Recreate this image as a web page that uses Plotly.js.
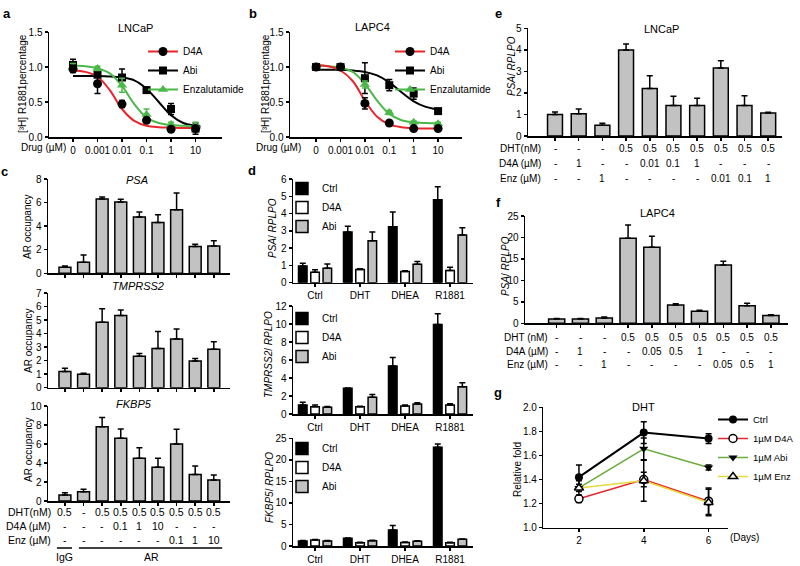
<!DOCTYPE html>
<html><head><meta charset="utf-8">
<script src="https://cdn.plot.ly/plotly-3.0.1.min.js"></script>
<style>html,body{margin:0;padding:0;background:#fff}#chart{width:800px;height:566px}</style>
</head><body><div id="chart"></div>
<script>
// ================= DATA =================
// panels a / b : competition binding
const doseLabels = ['0','0.001','0.01','0.1','1','10'];
const doseIdx = [0,1,2,3,4,5];
const lncapD4A = [0.97,0.76,0.47,0.24,0.11,0.12];
const lncapD4AErr = [0.05,0.14,0.05,0.03,0.02,0.03];
const lncapAbi = [1.03,0.89,0.85,0.67,0.40,0.12];
const lncapAbiErr = [0.08,0.03,0.12,0.04,0.08,0.08];
const lncapEnz = [1.00,0.98,0.74,0.32,0.18,0.16];
const lncapEnzErr = [0.05,0.03,0.10,0.08,0.03,0.05];
// fitted curves (x in decade index)
const lncapFitX = [0,0.5,1,1.5,2,2.5,3,3.5,4,4.5,5,5.2];
const lncapFitD4A = [0.95,0.93,0.86,0.67,0.40,0.23,0.16,0.14,0.135,0.13,0.13,0.13];
const lncapFitEnz = [1.02,1.01,0.98,0.91,0.73,0.47,0.28,0.20,0.17,0.16,0.155,0.155];
const lncapFitAbi = [0.87,0.87,0.87,0.865,0.85,0.81,0.69,0.50,0.31,0.20,0.16,0.15];

const lapcD4A = [1.00,1.00,0.48,0.20,0.12,0.12];
const lapcD4AErr = [0.03,0.03,0.08,0.02,0.02,0.02];
const lapcAbi = [1.00,1.00,0.84,0.74,0.62,0.37];
const lapcAbiErr = [0.04,0.04,0.22,0.08,0.08,0.03];
const lapcEnz = [1.00,1.00,0.75,0.35,0.21,0.19];
const lapcEnzErr = [0.04,0.04,0.05,0.03,0.02,0.02];
const lapcFitX = [0,0.5,1,1.5,2,2.5,3,3.5,4,4.5,5,5.05];
const lapcFitD4A = [1.03,1.01,0.95,0.80,0.52,0.29,0.18,0.14,0.125,0.12,0.12,0.12];
const lapcFitEnz = [1.02,1.01,0.99,0.93,0.76,0.52,0.33,0.24,0.21,0.20,0.195,0.195];
const lapcFitAbi = [0.96,0.96,0.96,0.95,0.93,0.88,0.78,0.64,0.51,0.43,0.39,0.38];

// panel c : ChIP AR occupancy
const cDHT = ['0.5','-','0.5','0.5','0.5','0.5','0.5','0.5','0.5'];
const cD4A = ['-','-','-','0.1','1','10','-','-','-'];
const cEnz = ['-','-','-','-','-','-','0.1','1','10'];
const cPSA = [0.51,0.94,6.30,6.04,4.77,4.31,5.39,2.27,2.32];
const cPSAErr = [0.10,0.62,0.17,0.25,0.43,0.65,1.42,0.20,0.45];
const cTMP = [1.19,0.99,4.84,5.33,2.32,2.89,3.60,1.98,2.84];
const cTMPErr = [0.25,0.07,0.99,0.42,0.20,1.26,0.74,0.17,0.56];
const cFK = [0.63,0.98,7.82,6.60,4.49,3.54,6.00,2.80,2.21];
const cFKErr = [0.25,0.25,0.98,0.98,1.12,0.95,1.54,0.88,0.53];

// panel d : grouped expression
const dGroups = ['Ctrl','DHT','DHEA','R1881'];
const dPSACtrl = [0.97,2.93,3.24,4.80], dPSACtrlErr = [0.15,0.33,0.85,0.75];
const dPSAD4A  = [0.60,0.77,0.65,0.70], dPSAD4AErr  = [0.15,0.04,0.04,0.20];
const dPSAAbi  = [0.83,2.42,1.07,2.76], dPSAAbiErr  = [0.25,0.52,0.15,0.42];
const dTMPCtrl = [1.00,2.85,5.33,9.95], dTMPCtrlErr = [0.30,0.03,0.96,1.20];
const dTMPD4A  = [0.81,0.81,0.90,1.00], dTMPD4AErr  = [0.19,0.05,0.10,0.15];
const dTMPAbi  = [0.74,1.85,1.10,3.03], dTMPAbiErr  = [0.10,0.33,0.15,0.45];
const dFKCtrl  = [1.15,1.77,3.70,22.9], dFKCtrlErr  = [0.10,0.10,1.07,0.80];
const dFKD4A   = [1.38,0.77,0.80,0.77], dFKD4AErr   = [0.10,0.10,0.10,0.10];
const dFKAbi   = [1.15,1.23,1.10,1.55], dFKAbiErr   = [0.10,0.10,0.10,0.10];

// panel e : LNCaP PSA
const eDHT = ['-','-','-','0.5','0.5','0.5','0.5','0.5','0.5','0.5'];
const eD4A = ['-','1','-','-','0.01','0.1','1','-','-','-'];
const eEnz = ['-','-','1','-','-','-','-','0.01','0.1','1'];
const eVals = [1.00,1.03,0.50,3.99,2.21,1.42,1.42,3.16,1.42,1.07];
const eErr  = [0.11,0.22,0.09,0.28,0.59,0.43,0.33,0.33,0.45,0.03];

// panel f : LAPC4 PSA
const fDHT = ['-','-','-','0.5','0.5','0.5','0.5','0.5','0.5','0.5'];
const fD4A = ['-','1','-','-','0.05','0.5','1','-','-','-'];
const fEnz = ['-','-','1','-','-','-','-','0.05','0.5','1'];
const fVals = [1.00,1.00,1.24,19.8,17.7,4.27,2.80,13.6,4.10,1.80];
const fErr  = [0.10,0.10,0.20,3.10,2.60,0.30,0.25,0.85,0.55,0.20];

// panel g : time course
const gDays = [2,4,6];
const gCtrl = [1.42,1.79,1.74], gCtrlErr = [0.10,0.09,0.04];
const gD4A  = [1.24,1.40,1.22], gD4AErr  = [0.03,0.06,0.11];
const gAbi  = [1.33,1.655,1.50], gAbiErr = [0.06,0.09,0.02];
const gEnz  = [1.33,1.39,1.21], gEnzErr  = [0.03,0.17,0.11];

// ================= STYLE / HELPERS =================
const W = 800, H = 566;
const FONT = '"Liberation Sans", Arial, sans-serif';
const BLACK = '#000', RED = '#e8262c', GREEN = '#4cb849', GRAY = '#c2c2c2', GGREEN = '#6aad3d', YELLOW = '#e4da3e';
const dx = (a,b) => [a/W, b/W];
const dy = (top,bottom) => [1-bottom/H, 1-top/H];
const idx = arr => arr.map((_,i)=>i);
function ax(domain, anchor, extra){
  return Object.assign({domain, anchor, showgrid:false, zeroline:false, showline:true,
    linecolor:BLACK, linewidth:1.5, ticks:'outside', ticklen:3, tickwidth:1.5, tickcolor:BLACK, tickangle:0,
    tickfont:{family:FONT,size:10,color:BLACK}, fixedrange:true}, extra);
}
const eb = (arr,color) => ({type:'data', array:arr, visible:true, color:color||BLACK, thickness:1.5, width:3});
const ebUp = arr => ({type:'data', array:arr, arrayminus:arr.map(()=>0), symmetric:false, visible:true, color:BLACK, thickness:1.5, width:3});

const ann = [];
function txt(t, x, y, o){ ann.push(Object.assign({text:t, x:x/W, y:1-y/H, xref:'paper', yref:'paper', showarrow:false,
  xanchor:'center', yanchor:'middle', font:{family:FONT,size:10,color:BLACK}}, o||{})); }
function ytitle(t, x, y, size){ txt(t, x, y, {textangle:-90, font:{family:FONT,size:size||10,color:BLACK}}); }
function rowVals(xref, labels, ypx, size){ labels.forEach((t,i)=>ann.push({text:t, x:i, xref, y:1-ypx/H, yref:'paper',
  showarrow:false, xanchor:'center', yanchor:'middle', font:{family:FONT,size:size||10,color:BLACK}})); }

const traces = [];
// ---------- a / b ----------
function dosePanel(n, d4a, d4aE, abi, abiE, enz, enzE, fx, fD4A, fAbi, fEnz, lg){
  const xa = n===1?'x':'x'+n, ya = n===1?'y':'y'+n;
  traces.push({type:'scatter', mode:'lines', x:fx, y:fAbi, xaxis:xa, yaxis:ya, line:{color:BLACK,width:2,shape:'spline'}, showlegend:false, hoverinfo:'skip'});
  traces.push({type:'scatter', mode:'lines', x:fx, y:fEnz, xaxis:xa, yaxis:ya, line:{color:GREEN,width:2,shape:'spline'}, showlegend:false, hoverinfo:'skip'});
  traces.push({type:'scatter', mode:'lines', x:fx, y:fD4A, xaxis:xa, yaxis:ya, line:{color:RED,width:2,shape:'spline'}, showlegend:false, hoverinfo:'skip'});
  traces.push({type:'scatter', mode:'markers', x:doseIdx, y:abi, xaxis:xa, yaxis:ya, marker:{symbol:'square',size:8,color:BLACK}, error_y:eb(abiE), showlegend:false});
  traces.push({type:'scatter', mode:'markers', x:doseIdx, y:enz, xaxis:xa, yaxis:ya, marker:{symbol:'triangle-up',size:9,color:GREEN}, error_y:eb(enzE,GREEN), showlegend:false});
  traces.push({type:'scatter', mode:'markers', x:doseIdx, y:d4a, xaxis:xa, yaxis:ya, marker:{symbol:'circle',size:9,color:BLACK}, error_y:eb(d4aE), showlegend:false});
  // legend entries
  traces.push({type:'scatter', mode:'lines+markers', name:'D4A', x:[null], y:[null], xaxis:xa, yaxis:ya, line:{color:RED,width:2}, marker:{symbol:'circle',size:9,color:BLACK}, legend:lg});
  traces.push({type:'scatter', mode:'lines+markers', name:'Abi', x:[null], y:[null], xaxis:xa, yaxis:ya, line:{color:BLACK,width:2}, marker:{symbol:'square',size:8,color:BLACK}, legend:lg});
  traces.push({type:'scatter', mode:'lines+markers', name:'Enzalutamide', x:[null], y:[null], xaxis:xa, yaxis:ya, line:{color:GREEN,width:2}, marker:{symbol:'triangle-up',size:9,color:GREEN}, legend:lg});
}
dosePanel(1, lncapD4A, lncapD4AErr, lncapAbi, lncapAbiErr, lncapEnz, lncapEnzErr, lncapFitX, lncapFitD4A, lncapFitAbi, lncapFitEnz, 'legend');
dosePanel(2, lapcD4A, lapcD4AErr, lapcAbi, lapcAbiErr, lapcEnz, lapcEnzErr, lapcFitX, lapcFitD4A, lapcFitAbi, lapcFitEnz, 'legend2');

// ---------- single bar panels ----------
function barTrace(n, ys, errs, width){
  return {type:'bar', x:idx(ys), y:ys, xaxis:'x'+n, yaxis:'y'+n, width:width,
    marker:{color:GRAY, line:{color:BLACK,width:1.5}}, error_y:ebUp(errs), showlegend:false, hoverinfo:'skip'};
}
traces.push(barTrace(3, cPSA, cPSAErr, 0.64));
traces.push(barTrace(4, cTMP, cTMPErr, 0.64));
traces.push(barTrace(5, cFK, cFKErr, 0.64));
traces.push(barTrace(9, eVals, eErr, 0.63));
traces.push(barTrace(10, fVals, fErr, 0.68));

// ---------- d grouped ----------
function dPanel(n, lg, ctrl, ctrlE, d4a, d4aE, abi, abiE){
  const base = {type:'bar', x:idx(dGroups), xaxis:'x'+n, yaxis:'y'+n, width:0.19, legend:lg, hoverinfo:'skip'};
  traces.push(Object.assign({}, base, {name:'Ctrl', y:ctrl, offset:-0.368, marker:{color:BLACK,line:{color:BLACK,width:1.5}}, error_y:ebUp(ctrlE)}));
  traces.push(Object.assign({}, base, {name:'D4A', y:d4a, offset:-0.095, marker:{color:'#fff',line:{color:BLACK,width:1.5}}, error_y:ebUp(d4aE)}));
  traces.push(Object.assign({}, base, {name:'Abi', y:abi, offset:0.178, marker:{color:GRAY,line:{color:BLACK,width:1.5}}, error_y:ebUp(abiE)}));
}
dPanel(6, 'legend3', dPSACtrl, dPSACtrlErr, dPSAD4A, dPSAD4AErr, dPSAAbi, dPSAAbiErr);
dPanel(7, 'legend4', dTMPCtrl, dTMPCtrlErr, dTMPD4A, dTMPD4AErr, dTMPAbi, dTMPAbiErr);
dPanel(8, 'legend5', dFKCtrl, dFKCtrlErr, dFKD4A, dFKD4AErr, dFKAbi, dFKAbiErr);

// ---------- g ----------
const gBase = {type:'scatter', mode:'lines+markers', x:gDays, xaxis:'x11', yaxis:'y11', legend:'legend6'};
traces.push(Object.assign({}, gBase, {name:'Ctrl', y:gCtrl, line:{color:BLACK,width:2}, marker:{symbol:'circle',size:8,color:BLACK}, error_y:eb(gCtrlErr)}));
traces.push(Object.assign({}, gBase, {name:'1µM D4A', y:gD4A, line:{color:RED,width:1.5}, marker:{symbol:'circle',size:8,color:'#fff',line:{color:BLACK,width:1.5}}, error_y:eb(gD4AErr)}));
traces.push(Object.assign({}, gBase, {name:'1µM Abi', y:gAbi, line:{color:GGREEN,width:1.5}, marker:{symbol:'triangle-down',size:8,color:BLACK}, error_y:eb(gAbiErr)}));
traces.push(Object.assign({}, gBase, {name:'1µM Enz', y:gEnz, line:{color:YELLOW,width:1.5}, marker:{symbol:'triangle-up',size:8,color:'#fff',line:{color:BLACK,width:1.5}}, error_y:eb(gEnzErr)}));

// ---------- annotations ----------
const bold = {family:FONT,size:13,color:BLACK,weight:'bold'};
txt('<b>a</b>', 7, 13, {font:bold}); txt('<b>b</b>', 253, 13, {font:bold});
txt('<b>c</b>', 4, 172, {font:bold}); txt('<b>d</b>', 252, 170, {font:bold});
txt('<b>e</b>', 498, 13, {font:bold}); txt('<b>f</b>', 498, 202, {font:bold}); txt('<b>g</b>', 498, 392, {font:bold});

const t11 = {family:FONT,size:11,color:BLACK};
txt('LNCaP', 135, 28, {font:t11});
txt('LAPC4', 372, 27, {font:t11});
txt('<i>PSA</i>', 137, 180, {font:t11});
txt('<i>TMPRSS2</i>', 138, 286, {font:t11});
txt('<i>FKBP5</i>', 134, 404, {font:t11});
txt('LNCaP', 661, 29, {font:t11});
txt('LAPC4', 657, 213, {font:t11});
txt('DHT', 643, 407, {font:t11});

ytitle('[³H] R1881percentage', 23, 84);
ytitle('[³H] R1881percentage', 266, 84);
txt('Drug (µM)', 68, 147, {xanchor:'right'});
txt('Drug (µM)', 303, 147, {xanchor:'right'});

ytitle('AR occupancy', 28, 227); ytitle('AR occupancy', 28, 341); ytitle('AR occupancy', 28, 450);
const r105 = {family:FONT,size:10.5,color:BLACK};
txt('DHT(nM)', 53, 512, {xanchor:'right', font:r105});
txt('D4A (µM)', 53, 526, {xanchor:'right', font:r105});
txt('Enz (µM)', 53, 540, {xanchor:'right', font:r105});
rowVals('x5', cDHT, 512, 10.5); rowVals('x5', cD4A, 526, 10.5); rowVals('x5', cEnz, 540, 10.5);
txt('IgG', 64, 557, {font:r105});
txt('AR', 151, 557, {font:r105});

ytitle('<i>PSA</i>/ <i>RPLPO</i>', 272, 228);
ytitle('<i>TMPRSS2</i>/ <i>RPLPO</i>', 268, 355);
ytitle('<i>FKBP5</i>/ <i>RPLPO</i>', 269, 488);

ytitle('<i>PSA</i>/ <i>RPLPO</i>', 512, 66);
txt('DHT(nM)', 543, 148, {xanchor:'right'});
txt('D4A (µM)', 543, 163, {xanchor:'right'});
txt('Enz (µM)', 543, 178, {xanchor:'right'});
rowVals('x9', eDHT, 148); rowVals('x9', eD4A, 163); rowVals('x9', eEnz, 178);

ytitle('<i>PSA</i>/ <i>RPLPO</i>', 505, 266);
txt('DHT (nM)', 550, 337, {xanchor:'right'});
txt('D4A (µM)', 550, 351, {xanchor:'right'});
txt('Enz (µM)', 550, 364, {xanchor:'right'});
rowVals('x10', fDHT, 337); rowVals('x10', fD4A, 351); rowVals('x10', fEnz, 364);

ytitle('Relative fold', 517, 470);
txt('(Days)', 744, 537);

// ---------- shapes ----------
const shapes = [
  {type:'line', xref:'x5', yref:'paper', x0:-0.43, x1:0.38, y0:1-548/H, y1:1-548/H, line:{color:BLACK,width:1.5}},
  {type:'line', xref:'x5', yref:'paper', x0:0.75, x1:8.45, y0:1-548/H, y1:1-548/H, line:{color:BLACK,width:1.5}}
];

// ---------- layout ----------
const lgBase = {xanchor:'left', yanchor:'top', bgcolor:'rgba(0,0,0,0)', borderwidth:0, tracegroupgap:0,
  font:{family:FONT,size:10,color:BLACK}, itemclick:false, itemdoubleclick:false};
const noLab = {showticklabels:false};
const layout = {
  width:W, height:H, margin:{l:0,r:0,t:0,b:0}, paper_bgcolor:'#fff', plot_bgcolor:'rgba(0,0,0,0)',
  barmode:'overlay', showlegend:true, font:{family:FONT,size:10,color:BLACK},
  xaxis:  ax(dx(49,222),'y',  {range:[-0.98,6.08], tickvals:doseIdx, ticktext:doseLabels}),
  yaxis:  ax(dy(32,137),'x',  {range:[0,1.5], dtick:0.5, tickformat:'.1f'}),
  xaxis2: ax(dx(290,462),'y2',{range:[-1.07,5.98], tickvals:doseIdx, ticktext:doseLabels}),
  yaxis2: ax(dy(32,137),'x2', {range:[0,1.5], dtick:0.5, tickformat:'.1f'}),
  xaxis3: ax(dx(48,230),'y3', Object.assign({range:[-0.91,8.87], tickvals:idx(cPSA)}, noLab)),
  yaxis3: ax(dy(179,273.3),'x3',{range:[0,8], dtick:2}),
  xaxis4: ax(dx(48,230),'y4', Object.assign({range:[-0.91,8.87], tickvals:idx(cTMP)}, noLab)),
  yaxis4: ax(dy(293,387.7),'x4',{range:[0,7], dtick:1}),
  xaxis5: ax(dx(48,230),'y5', Object.assign({range:[-0.91,8.87], tickvals:idx(cFK)}, noLab)),
  yaxis5: ax(dy(406,501),'x5', {range:[0,10], dtick:2}),
  xaxis6: ax(dx(293,473),'y6', {range:[-0.49,3.51], tickvals:idx(dGroups), ticktext:dGroups}),
  yaxis6: ax(dy(179,282.7),'x6',{range:[0,6], dtick:1}),
  xaxis7: ax(dx(293,473),'y7', {range:[-0.49,3.51], tickvals:idx(dGroups), ticktext:dGroups}),
  yaxis7: ax(dy(306,414),'x7', {range:[0,12], dtick:2}),
  xaxis8: ax(dx(293,473),'y8', {range:[-0.49,3.51], tickvals:idx(dGroups), ticktext:dGroups}),
  yaxis8: ax(dy(438.3,546),'x8',{range:[0,25], dtick:5}),
  xaxis9: ax(dx(528,781.7),'y9', Object.assign({range:[-1.14,9.57], tickvals:idx(eVals)}, noLab)),
  yaxis9: ax(dy(28.3,136),'x9', {range:[0,5], dtick:1}),
  xaxis10: ax(dx(525,788.3),'y10', Object.assign({range:[-1.33,9.73], tickvals:idx(fVals)}, noLab)),
  yaxis10: ax(dy(216,323.3),'x10', {range:[0,25], dtick:5}),
  xaxis11: ax(dx(543.3,728),'y11', {range:[0.9,6.6], tickvals:gDays}),
  yaxis11: ax(dy(407.3,527.7),'x11', {range:[1,2], dtick:0.2, tickformat:'.1f'}),
  legend:  Object.assign({}, lgBase, {x:143/W, y:1-37/H}),
  legend2: Object.assign({}, lgBase, {x:390/W, y:1-37/H}),
  legend3: Object.assign({}, lgBase, {x:282/W, y:1-174/H}),
  legend4: Object.assign({}, lgBase, {x:282/W, y:1-304/H}),
  legend5: Object.assign({}, lgBase, {x:282/W, y:1-434/H}),
  legend6: Object.assign({}, lgBase, {x:713/W, y:1-405/H, font:{family:FONT,size:9.5,color:BLACK}}),
  annotations: ann, shapes: shapes
};
Plotly.newPlot('chart', traces, layout, {staticPlot:true, displayModeBar:false});
</script>
</body></html>
